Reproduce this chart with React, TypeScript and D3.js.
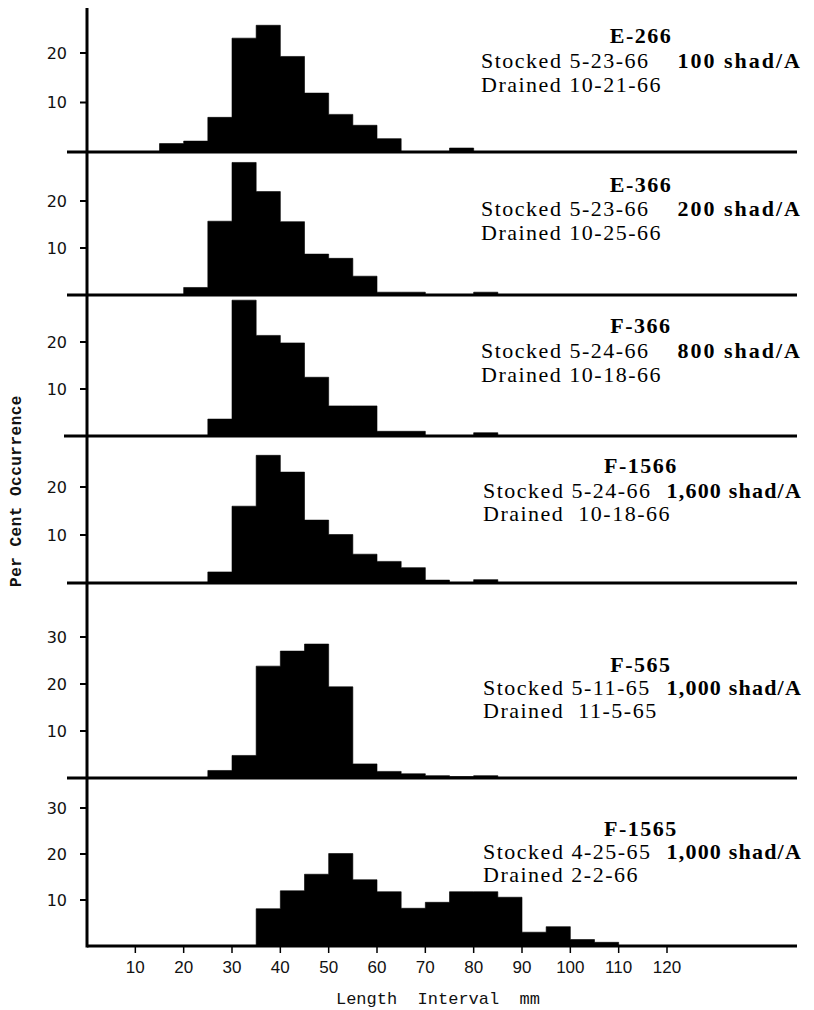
import React from 'react';
import * as d3 from 'd3';

// length-frequency of shad, per cent occurrence in 5 mm intervals
const BIN = 5;

const e266Bins = [15, 20, 25, 30, 35, 40, 45, 50, 55, 60, 75];
const e266Pct = [1.7, 2.2, 7.0, 23.0, 25.6, 19.3, 11.9, 7.6, 5.4, 2.7, 0.8];

const e366Bins = [20, 25, 30, 35, 40, 45, 50, 55, 60, 65, 80];
const e366Pct = [1.6, 15.7, 28.2, 22.0, 15.6, 8.7, 7.8, 4.0, 0.6, 0.6, 0.6];

const f366Bins = [25, 30, 35, 40, 45, 50, 55, 60, 65, 80];
const f366Pct = [3.6, 28.9, 21.4, 19.8, 12.5, 6.4, 6.4, 1.0, 1.0, 0.7];

const f1566Bins = [25, 30, 35, 40, 45, 50, 55, 60, 65, 70, 80];
const f1566Pct = [2.3, 16.0, 26.6, 23.1, 13.1, 10.1, 6.0, 4.5, 3.2, 0.6, 0.7];

const f565Bins = [25, 30, 35, 40, 45, 50, 55, 60, 65, 70, 75, 80];
const f565Pct = [1.6, 4.8, 23.8, 27.0, 28.5, 19.4, 3.0, 1.4, 0.9, 0.5, 0.3, 0.5];

const f1565Bins = [35, 40, 45, 50, 55, 60, 65, 70, 75, 80, 85, 90, 95, 100, 105];
const f1565Pct = [8.1, 12.0, 15.6, 20.1, 14.4, 11.8, 8.2, 9.5, 11.8, 11.8, 10.6, 3.0, 4.2, 1.4, 0.8];

const ponds = ['E-266', 'E-366', 'F-366', 'F-1566', 'F-565', 'F-1565'];
const stocked = ['Stocked 5-23-66', 'Stocked 5-23-66', 'Stocked 5-24-66', 'Stocked 5-24-66', 'Stocked 5-11-65', 'Stocked 4-25-65'];
const rates = ['100 shad/A', '200 shad/A', '800 shad/A', '1,600 shad/A', '1,000 shad/A', '1,000 shad/A'];
const drained = ['Drained 10-21-66', 'Drained 10-25-66', 'Drained 10-18-66', 'Drained  10-18-66', 'Drained  11-5-65', 'Drained 2-2-66'];

const yTicksSmall = [10, 20];
const yTicksLarge = [10, 20, 30];
const xTicks = [10, 20, 30, 40, 50, 60, 70, 80, 90, 100, 110, 120];

const binSets = [e266Bins, e366Bins, f366Bins, f1566Bins, f565Bins, f1565Bins];
const pctSets = [e266Pct, e366Pct, f366Pct, f1566Pct, f565Pct, f1565Pct];
const tickSets = [yTicksSmall, yTicksSmall, yTicksSmall, yTicksSmall, yTicksLarge, yTicksLarge];

// page layout of the six stacked panels
const layout = [
  { base: 152, top: 53, ref: 20, t: [43, 68, 92], left: 67 },
  { base: 295, top: 201, ref: 20, t: [192, 216, 240], left: 67 },
  { base: 436, top: 342, ref: 20, t: [333, 358, 382], left: 64 },
  { base: 583, top: 487, ref: 20, t: [473, 498, 521], left: 67 },
  { base: 778, top: 637, ref: 30, t: [672, 695, 718], left: 67 },
  { base: 946, top: 808, ref: 30, t: [836, 859, 882], left: 87 },
];

const W = 814;
const H = 1010;
const AXIS_X = 87;

const serif = '"Liberation Serif", "Times New Roman", serif';
const mono = '"Liberation Mono", monospace';

// outline of a histogram as one step polygon, so adjacent bars merge
function stepPoints(bins: number[], pct: number[]) {
  const pts: [number, number][] = [];
  let end: number | null = null;
  bins.forEach((b, j) => {
    if (end !== null && end !== b) {
      pts.push([end, 0], [b, 0]);
    } else if (end === null) {
      pts.push([b, 0]);
    }
    pts.push([b, pct[j]], [b + BIN, pct[j]]);
    end = b + BIN;
  });
  if (end !== null) pts.push([end, 0]);
  return pts;
}

export default function App() {
  const x = d3.scaleLinear().domain([0, 120]).range([AXIS_X, 667]);
  const bottom = layout[layout.length - 1].base;

  return (
    <svg width={W} height={H} style={{ position: 'absolute', left: 0, top: 0, background: '#fff' }}>
      <rect width={W} height={H} fill="#fff" />
      {layout.map((p, i) => {
        const y = d3.scaleLinear().domain([0, p.ref]).range([p.base, p.top]);
        const area = d3
          .area<[number, number]>()
          .x((d) => x(d[0]))
          .y0(p.base)
          .y1((d) => y(d[1]));
        const tx = i < 3 ? 481 : 483;
        return (
          <g key={ponds[i]}>
            <path d={area(stepPoints(binSets[i], pctSets[i])) || ''} fill="#000" stroke="#000" strokeWidth={0.6} />
            <line x1={p.left} x2={797} y1={p.base} y2={p.base} stroke="#000" strokeWidth={3} />
            {tickSets[i].map((t) => (
              <g key={t}>
                <line x1={AXIS_X - 7} x2={AXIS_X} y1={y(t)} y2={y(t)} stroke="#000" strokeWidth={2} />
                <text
                  x={67}
                  y={y(t)}
                  dy="0.36em"
                  textAnchor="end"
                  fontFamily='"DejaVu Sans", sans-serif'
                  fontSize={16}
                  fill="#111"
                >
                  {t}
                </text>
              </g>
            ))}
            <text x={641} y={p.t[0]} textAnchor="middle" fontFamily={serif} fontWeight="bold" fontSize={22} letterSpacing={1.5} fill="#000">
              {ponds[i]}
            </text>
            <text x={tx} y={p.t[1]} fontFamily={serif} fontSize={22} letterSpacing={1.5} fill="#000" style={{ whiteSpace: 'pre' }}>
              {stocked[i]}
            </text>
            <text x={802} y={p.t[1]} textAnchor="end" fontFamily={serif} fontWeight="bold" fontSize={22} letterSpacing={i < 3 ? 2 : 1.2} fill="#000">
              {rates[i]}
            </text>
            <text x={tx} y={p.t[2]} fontFamily={serif} fontSize={22} letterSpacing={1.5} fill="#000" style={{ whiteSpace: 'pre' }}>
              {drained[i]}
            </text>
          </g>
        );
      })}

      {/* vertical axis shared by all panels */}
      <line x1={AXIS_X} x2={AXIS_X} y1={8} y2={bottom + 1.5} stroke="#000" strokeWidth={3} />

      {/* length axis */}
      {xTicks.map((t) => (
        <g key={t}>
          <line x1={x(t)} x2={x(t)} y1={bottom} y2={bottom + 7} stroke="#000" strokeWidth={1.5} />
          <text
            x={x(t)}
            y={973}
            textAnchor="middle"
            fontFamily='"Liberation Sans", sans-serif'
            fontSize={17}
            fill="#111"
          >
            {t}
          </text>
        </g>
      ))}

      <text x={438} y={1004} textAnchor="middle" fontFamily={mono} fontSize={17} fill="#111" style={{ whiteSpace: 'pre' }}>
        {'Length  Interval  mm'}
      </text>

      <text
        transform="translate(21,491) rotate(-90)"
        textAnchor="middle"
        fontFamily={mono}
        fontWeight="bold"
        fontSize={16}
        letterSpacing={0.5}
        fill="#111"
      >
        Per Cent Occurrence
      </text>
    </svg>
  );
}
